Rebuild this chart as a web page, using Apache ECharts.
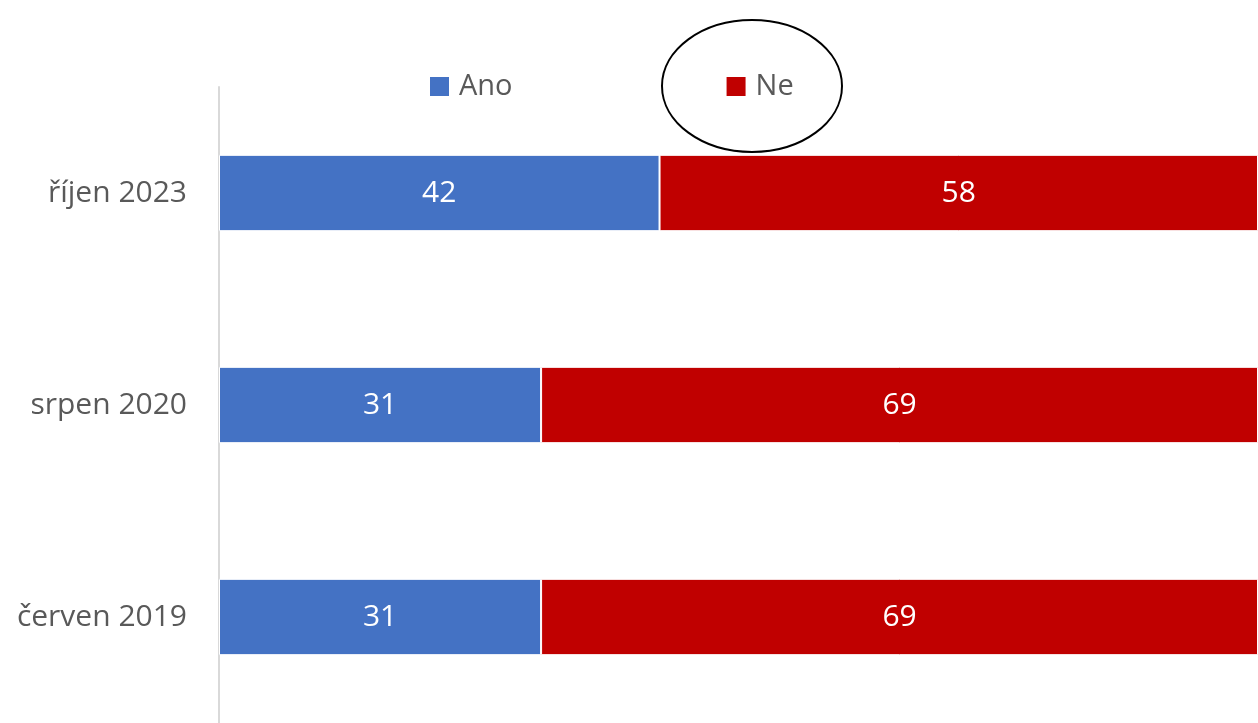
<!DOCTYPE html>
<html><head><meta charset="utf-8">
<script src="https://cdn.jsdelivr.net/npm/echarts@6/dist/echarts.min.js"></script>
<style>html,body{margin:0;padding:0;background:#fff}#c{width:1258px;height:723px}</style>
</head><body><div id="c"></div>
<script>
const categories = ['červen 2019', 'srpen 2020', 'říjen 2023'];
const ano = [31, 31, 42.4];
const ne = [69, 69, 57.6];
const seriesNames = ['Ano', 'Ne'];

const chart = echarts.init(document.getElementById('c'));
const font = '"Open Sans", "Liberation Sans", sans-serif';
const lbl = {show: true, position: 'inside', color: '#fff', fontSize: 30, fontFamily: font,
  formatter: p => Math.round(p.value)};
chart.setOption({
  animation: false,
  textStyle: {fontFamily: font},
  legend: {
    data: seriesNames, left: 430, top: 72, padding: 0, itemWidth: 19, itemHeight: 19, itemGap: 214,
    icon: 'rect', itemStyle: {borderWidth: 0},
    textStyle: {fontSize: 29, color: '#595959', fontFamily: font, padding: [0, 0, 0, 5]}
  },
  grid: {left: 219, right: 0, top: 87, bottom: 0, containLabel: false},
  xAxis: {type: 'value', min: 0, max: 100, show: false},
  yAxis: {type: 'category', data: categories,
    axisLine: {show: true, lineStyle: {color: '#d9d9d9', width: 2}},
    axisTick: {show: false},
    axisLabel: {fontSize: 30, color: '#595959', margin: 32, fontFamily: font}},
  series: [
    {name: seriesNames[0], type: 'bar', stack: 't', data: ano, barWidth: '36%',
     itemStyle: {color: '#4472C4', borderColor: '#fff', borderWidth: 1}, label: lbl},
    {name: seriesNames[1], type: 'bar', stack: 't', data: ne, barWidth: '36%',
     itemStyle: {color: '#C00000', borderColor: '#fff', borderWidth: 1}, label: lbl}
  ],
  graphic: [{type: 'ellipse', shape: {cx: 752, cy: 86, rx: 90, ry: 66},
    style: {fill: 'none', stroke: '#000', lineWidth: 2}, z: 100}]
});
</script></body></html>
